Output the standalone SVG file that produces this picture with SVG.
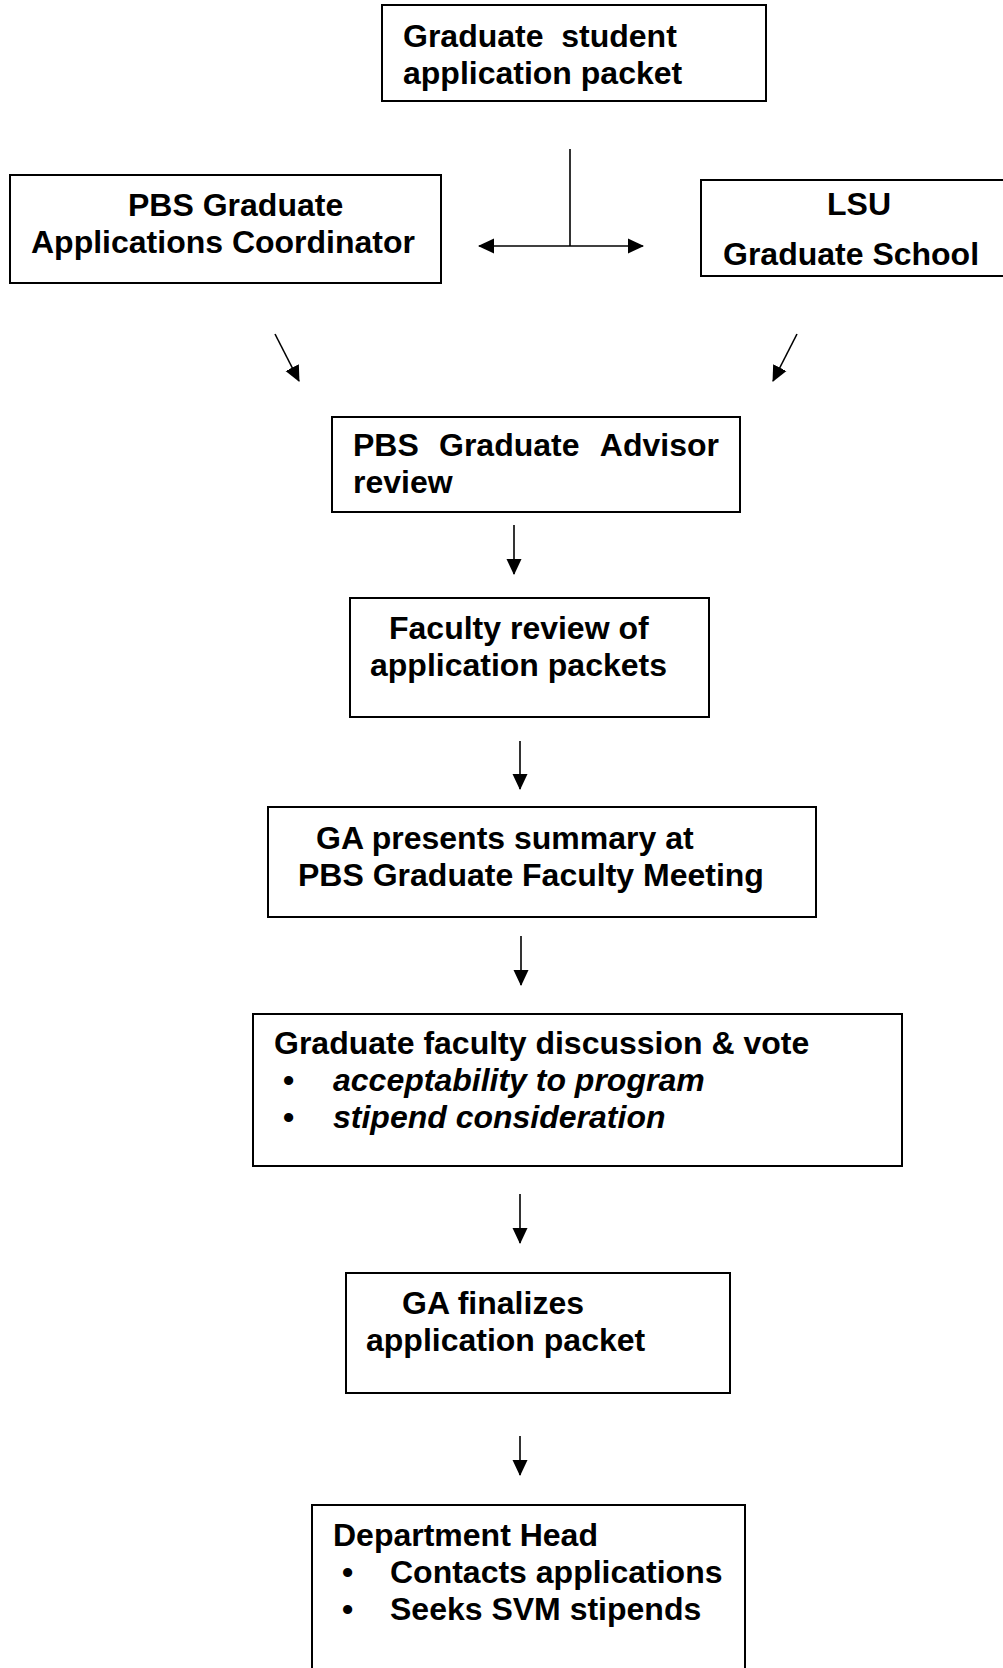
<svg xmlns="http://www.w3.org/2000/svg" width="1003" height="1668" viewBox="0 0 1003 1668">
<style>
.box{fill:#fff;stroke:#000;stroke-width:2}
.t{font-family:"Liberation Sans",Arial,sans-serif;font-size:32px;font-weight:bold;fill:#000}
.i{font-style:italic}
.c{stroke:#000;stroke-width:1.6;fill:none}
</style>
<defs>
<marker id="ah" markerUnits="userSpaceOnUse" markerWidth="16" markerHeight="16" viewBox="0 0 16 16" refX="15" refY="8" orient="auto">
<path d="M0,0.5 L16,8 L0,15.5 Z" fill="#000"/>
</marker>
</defs>
<rect width="1003" height="1668" fill="#fff"/>
<g id="connectors">
<line class="c" x1="570" y1="149" x2="570" y2="246"/>
<line class="c" x1="570" y1="246" x2="479" y2="246" marker-end="url(#ah)"/>
<line class="c" x1="570" y1="246" x2="643" y2="246" marker-end="url(#ah)"/>
<line class="c" x1="275" y1="334" x2="299" y2="381" marker-end="url(#ah)"/>
<line class="c" x1="797" y1="334" x2="773" y2="381" marker-end="url(#ah)"/>
<line class="c" x1="514" y1="525" x2="514" y2="574" marker-end="url(#ah)"/>
<line class="c" x1="520" y1="741" x2="520" y2="789" marker-end="url(#ah)"/>
<line class="c" x1="521" y1="936" x2="521" y2="985" marker-end="url(#ah)"/>
<line class="c" x1="520" y1="1194" x2="520" y2="1243" marker-end="url(#ah)"/>
<line class="c" x1="520" y1="1436" x2="520" y2="1475" marker-end="url(#ah)"/>
</g>
<g id="n1">
<rect class="box" x="382" y="5" width="384" height="96"/>
<text class="t" x="403" y="47" xml:space="preserve">Graduate  student</text>
<text class="t" x="403" y="84">application packet</text>
</g>
<g id="n2">
<rect class="box" x="10" y="175" width="431" height="108"/>
<text class="t" x="128" y="216">PBS Graduate</text>
<text class="t" x="31" y="253">Applications Coordinator</text>
</g>
<g id="n3">
<path class="box" d="M1004,180 H701 V276 H1004"/>
<text class="t" x="827" y="215">LSU</text>
<text class="t" x="723" y="265">Graduate School</text>
</g>
<g id="n4">
<rect class="box" x="332" y="417" width="408" height="95"/>
<text class="t" y="456"><tspan x="353">PBS</tspan><tspan x="439">Graduate</tspan><tspan x="719" text-anchor="end">Advisor</tspan></text>
<text class="t" x="353" y="493">review</text>
</g>
<g id="n5">
<rect class="box" x="350" y="598" width="359" height="119"/>
<text class="t" x="389" y="639">Faculty review of</text>
<text class="t" x="370" y="676">application packets</text>
</g>
<g id="n6">
<rect class="box" x="268" y="807" width="548" height="110"/>
<text class="t" x="316" y="849">GA presents summary at</text>
<text class="t" x="298" y="886">PBS Graduate Faculty Meeting</text>
</g>
<g id="n7">
<rect class="box" x="253" y="1014" width="649" height="152"/>
<text class="t" x="274" y="1054">Graduate faculty discussion &amp; vote</text>
<text class="t" x="283" y="1091">•</text>
<text class="t i" x="333" y="1091">acceptability to program</text>
<text class="t" x="283" y="1128">•</text>
<text class="t i" x="333" y="1128">stipend consideration</text>
</g>
<g id="n8">
<rect class="box" x="346" y="1273" width="384" height="120"/>
<text class="t" x="402" y="1314">GA finalizes</text>
<text class="t" x="366" y="1351">application packet</text>
</g>
<g id="n9">
<path class="box" d="M312,1670 V1505 H745 V1670"/>
<text class="t" x="333" y="1546">Department Head</text>
<text class="t" x="342" y="1583">•</text>
<text class="t" x="390" y="1583">Contacts applications</text>
<text class="t" x="342" y="1620">•</text>
<text class="t" x="390" y="1620">Seeks SVM stipends</text>
</g>
</svg>
